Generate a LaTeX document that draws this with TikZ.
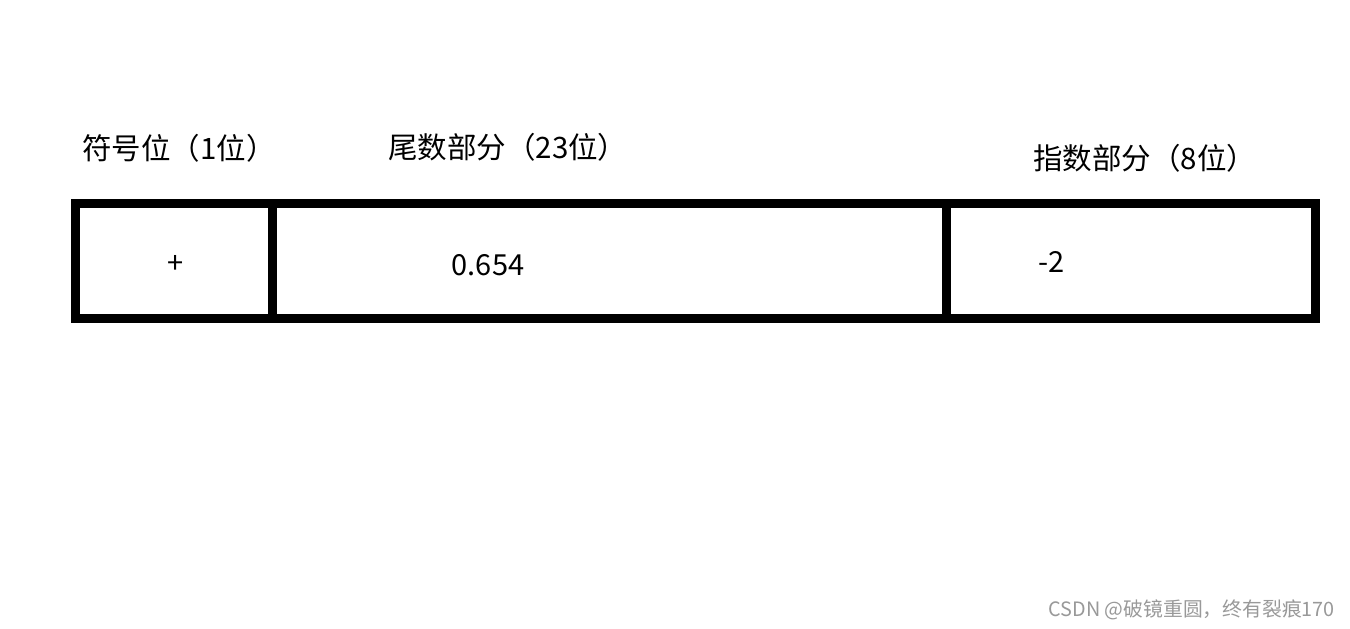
\documentclass[tikz,border=0pt]{standalone}
\usepackage{fontspec}
\setmainfont{Noto Sans CJK SC}
\newfontfamily\wmfont{Noto Sans CJK SC}
\begin{document}
\begin{tikzpicture}[x=1pt,y=-1pt,
  cell/.style={draw=black,line width=9pt,inner sep=0pt,outer sep=0pt,minimum height=115.5pt},
  lbl/.style={inner sep=0pt,anchor=west,font=\fontsize{29.5}{32}\selectfont},
  val/.style={inner sep=0pt,font=\fontsize{29}{32}\selectfont},
  wm/.style={inner sep=0pt,anchor=east,text=black!40,font=\wmfont\fontsize{19.8}{22}\selectfont}]
\useasboundingbox[fill=white] (0,0) rectangle (1350,629);
\node[cell,minimum width=196.5pt] (sign) at (173.75,260.75) {};
\node[cell,minimum width=674pt] (mant) at (609,260.75) {};
\node[cell,minimum width=369pt] (expo) at (1130.5,260.75) {};
\node[lbl] (lsign) at (82,148) {符号位（1位）};
\node[lbl] (lmant) at (388,147) {尾数部分（23位）};
\node[lbl] (lexpo) at (1033,158) {指数部分（8位）};
\node[val] (vsign) at (176,264) {+};
\node[val] (vmant) at (488,265) {0.654};
\node[val] (vexpo) at (1052,262) {-2};
\node[wm] (mark) at (1335,610) {CSDN @破镜重圆，终有裂痕170};
\end{tikzpicture}
\end{document}
